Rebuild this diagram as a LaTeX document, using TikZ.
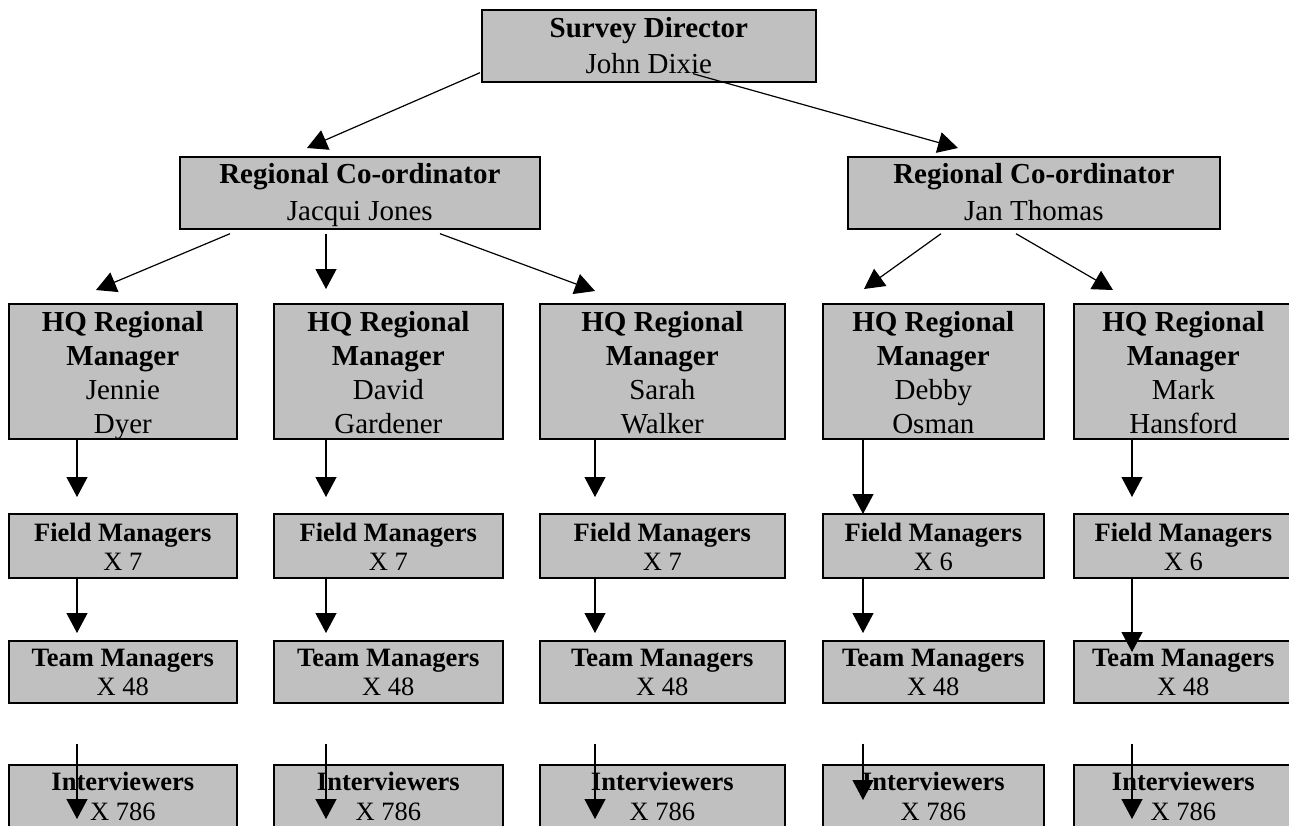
\documentclass[tikz,border=0pt]{standalone}
\usepackage{fontspec}
\setmainfont{Liberation Serif}
\usetikzlibrary{arrows.meta}
\definecolor{boxgray}{HTML}{C0C0C0}
\newcommand{\bt}[4]{\parbox[c][#2pt][t]{#1pt}{\centering\rule{0pt}{#3pt}#4}}
\newcommand{\varr}[5]{\draw[arr] ([xshift=#3pt,yshift=#4pt]#1.south west) -- ([xshift=#3pt,yshift=#5pt]#2.north west);}
\tikzset{
  orgbox/.style={draw=black, line width=1.7pt, fill=boxgray, inner sep=0pt, anchor=north west},
  bigfont/.style={font=\fontsize{29}{36.5}\selectfont},
  hqfont/.style={font=\fontsize{29}{34}\selectfont},
  smallfont/.style={font=\fontsize{26.5}{29.5}\selectfont},
  arr/.style={line width=1.2pt, -{Triangle[length=20pt,width=21pt]}}
}
\begin{document}
\begin{tikzpicture}[x=1pt,y={(0pt,-1pt)}]
\clip (0,0) rectangle (1289,825);
\fill[white] (0,0) rectangle (1289,825);
% top levels
\node[orgbox,bigfont] (top) at (481,9) {\bt{334}{72}{27.5}{\textbf{Survey Director}\\John Dixie}};
\node[orgbox,bigfont] (jj) at (179,156) {\bt{360}{72}{27}{\textbf{Regional Co-ordinator}\\Jacqui Jones}};
\node[orgbox,bigfont] (jt) at (847,156) {\bt{372}{72}{27}{\textbf{Regional Co-ordinator}\\Jan Thomas}};
% HQ managers
\node[orgbox,hqfont] (h1) at (8,303) {\bt{228}{135}{28}{\textbf{HQ Regional}\\\textbf{Manager}\\Jennie\\Dyer}};
\node[orgbox,hqfont] (h2) at (273,303) {\bt{229}{135}{28}{\textbf{HQ Regional}\\\textbf{Manager}\\David\\Gardener}};
\node[orgbox,hqfont] (h3) at (539,303) {\bt{245}{135}{28}{\textbf{HQ Regional}\\\textbf{Manager}\\Sarah\\Walker}};
\node[orgbox,hqfont] (h4) at (822,303) {\bt{221}{135}{28}{\textbf{HQ Regional}\\\textbf{Manager}\\Debby\\Osman}};
\node[orgbox,hqfont] (h5) at (1073,303) {\bt{219}{135}{28}{\textbf{HQ Regional}\\\textbf{Manager}\\Mark\\Hansford}};
% field managers
\node[orgbox,smallfont] (f1) at (8,513) {\bt{228}{64}{27.3}{\textbf{Field Managers}\\X 7}};
\node[orgbox,smallfont] (f2) at (273,513) {\bt{229}{64}{27.3}{\textbf{Field Managers}\\X 7}};
\node[orgbox,smallfont] (f3) at (539,513) {\bt{245}{64}{27.3}{\textbf{Field Managers}\\X 7}};
\node[orgbox,smallfont] (f4) at (822,513) {\bt{221}{64}{27.3}{\textbf{Field Managers}\\X 6}};
\node[orgbox,smallfont] (f5) at (1073,513) {\bt{219}{64}{27.3}{\textbf{Field Managers}\\X 6}};
% team managers
\node[orgbox,smallfont] (t1) at (8,640) {\bt{228}{62}{25.3}{\textbf{Team Managers}\\X 48}};
\node[orgbox,smallfont] (t2) at (273,640) {\bt{229}{62}{25.3}{\textbf{Team Managers}\\X 48}};
\node[orgbox,smallfont] (t3) at (539,640) {\bt{245}{62}{25.3}{\textbf{Team Managers}\\X 48}};
\node[orgbox,smallfont] (t4) at (822,640) {\bt{221}{62}{25.3}{\textbf{Team Managers}\\X 48}};
\node[orgbox,smallfont] (t5) at (1073,640) {\bt{219}{62}{25.3}{\textbf{Team Managers}\\X 48}};
% interviewers
\node[orgbox,smallfont] (i1) at (8,764) {\bt{228}{100}{25.7}{\textbf{Interviewers}\\X 786}};
\node[orgbox,smallfont] (i2) at (273,764) {\bt{229}{100}{25.7}{\textbf{Interviewers}\\X 786}};
\node[orgbox,smallfont] (i3) at (539,764) {\bt{245}{100}{25.7}{\textbf{Interviewers}\\X 786}};
\node[orgbox,smallfont] (i4) at (822,764) {\bt{221}{100}{25.7}{\textbf{Interviewers}\\X 786}};
\node[orgbox,smallfont] (i5) at (1073,764) {\bt{219}{100}{25.7}{\textbf{Interviewers}\\X 786}};
% upper arrows
\draw[arr] ([xshift=-1pt,yshift=10pt]top.south west) -- ([xshift=128pt,yshift=8pt]jj.north west);
\draw[arr] ([xshift=212pt,yshift=9pt]top.south west) -- ([xshift=111pt,yshift=8pt]jt.north west);
\draw[arr] ([xshift=51pt,yshift=-4pt]jj.south west) -- ([xshift=88pt,yshift=13pt]h1.north west);
\draw[arr] ([xshift=147pt,yshift=-4pt]jj.south west) -- ([xshift=53pt,yshift=14pt]h2.north west);
\draw[arr] ([xshift=261pt,yshift=-4pt]jj.south west) -- ([xshift=56pt,yshift=12pt]h3.north west);
\draw[arr] ([xshift=94pt,yshift=-4pt]jt.south west) -- ([xshift=42pt,yshift=14pt]h4.north west);
\draw[arr] ([xshift=169pt,yshift=-4pt]jt.south west) -- ([xshift=40pt,yshift=13pt]h5.north west);
% vertical arrows
\varr{h1}{f1}{69}{0}{16}
\varr{h2}{f2}{53}{0}{16}
\varr{h3}{f3}{56}{0}{16}
\varr{h4}{f4}{41}{0}{-1}
\varr{h5}{f5}{59}{0}{16}
\varr{f1}{t1}{69}{2}{7}
\varr{f2}{t2}{53}{2}{7}
\varr{f3}{t3}{56}{2}{7}
\varr{f4}{t4}{41}{2}{7}
\varr{f5}{t5}{59}{2}{-12}
\varr{t1}{i1}{69}{-40}{-55}
\varr{t2}{i2}{53}{-40}{-55}
\varr{t3}{i3}{56}{-40}{-55}
\varr{t4}{i4}{41}{-40}{-36}
\varr{t5}{i5}{59}{-40}{-55}
\end{tikzpicture}
\end{document}
